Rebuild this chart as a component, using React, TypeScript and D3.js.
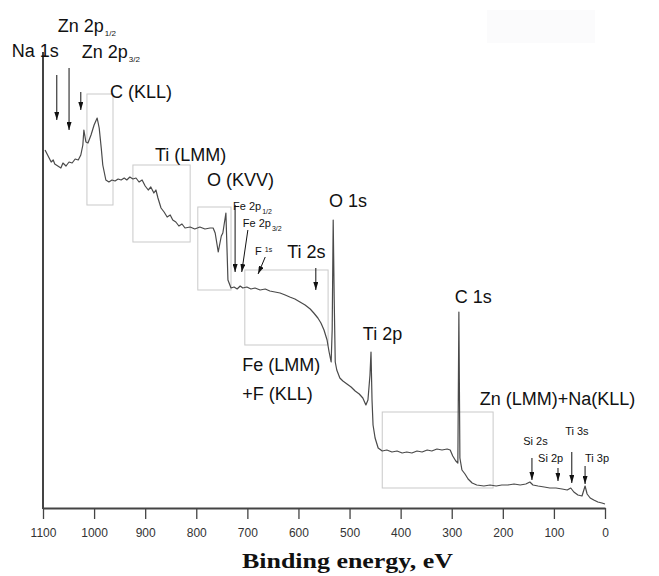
import { useEffect, useRef } from "react";
import * as d3 from "d3";

// survey spectrum (binding energy eV, intensity a.u.)
const energy = [
  1096, 1090, 1084, 1080, 1077, 1071, 1065, 1061, 1055, 1049, 1043, 1037, 1031, 1026, 1022, 1020, 1016, 1012, 1006, 1000,
  994, 990, 986, 983, 977, 971, 965, 959, 953, 947, 941, 936, 930, 924, 918, 912, 906, 900, 894, 889,
  883, 879, 875, 869, 863, 857, 851, 846, 840, 834, 828, 822, 812, 803, 793, 783, 773, 767, 763, 757,
  751, 748, 742, 738, 732, 726, 720, 714, 709, 701, 693, 685, 675, 665, 656, 646, 636, 626, 617, 607,
  597, 587, 577, 570, 562, 556, 550, 544, 540, 536, 534, 532, 530, 528, 525, 519, 513, 505, 497, 489,
  481, 474, 468, 464, 460, 458, 456, 454, 450, 444, 436, 427, 417, 407, 397, 388, 378, 368, 358, 348,
  339, 329, 319, 309, 303, 298, 292, 288, 286, 284, 280, 274, 268, 260, 251, 237, 225, 213, 202, 190,
  178, 166, 155, 147, 141, 131, 119, 108, 96, 84, 74, 67, 61, 53, 45, 39, 35, 29, 22, 14,
  6, 0,
];
const intensity = [
  358, 352, 346, 348, 344, 342, 340, 345, 342, 346, 345, 349, 348, 353, 363, 378, 366, 365, 373, 383,
  390, 380, 360, 343, 328, 326, 328, 327, 329, 328, 330, 328, 331, 329, 330, 326, 328, 322, 318, 321,
  315, 318, 310, 300, 296, 291, 293, 288, 286, 282, 284, 280, 281, 279, 281, 279, 280, 280, 275, 256,
  272, 275, 295, 228, 220, 221, 219, 222, 220, 221, 219, 220, 218, 219, 217, 216, 215, 213, 211, 209,
  206, 203, 199, 195, 190, 185, 178, 168, 156, 146, 178, 288, 208, 146, 138, 130, 127, 124, 121, 117,
  114, 110, 103, 108, 133, 156, 108, 83, 70, 60, 57, 58, 56, 57, 55, 56, 55, 57, 56, 58,
  57, 59, 58, 59, 58, 52, 47, 45, 196, 50, 38, 34, 29, 25, 23, 22, 23, 22, 23, 23,
  24, 23, 24, 26, 23, 22, 21, 20, 20, 19, 18, 20, 16, 13, 12, 22, 14, 10, 8, 6,
  5, 4,
];

const majorTicks = [1100, 1000, 900, 800, 700, 600, 500, 400, 300, 200, 100, 0];
const minorTicks = d3.range(0, 1101, 20);

// grey boxes around Auger regions: [eV from, eV to, intensity low, intensity high]
const boxE0 = [1014, 924, 797, 705, 436];
const boxE1 = [963, 812, 732, 542, 219];
const boxI0 = [303, 266, 218, 163, 20];
const boxI1 = [414, 343, 301, 238, 96];

// peak labels: text, subscript, anchor (eV, intensity), size class
const labelText = ["Zn 2p", "Na 1s", "Zn 2p", "C (KLL)", "Ti (LMM)", "O (KVV)", "Fe 2p", "Fe 2p", "F", "Ti 2s", "O 1s", "C 1s", "Ti 2p", "Fe (LMM)", "+F (KLL)", "Zn (LMM)+Na(KLL)", "Si 2s", "Ti 3s", "Si 2p", "Ti 3p"];
const labelSub = ["1/2", "", "3/2", "", "", "", "1/2", "3/2", "1s", "", "", "", "", "", "", "", "", "", "", ""];
const labelE = [1071, 1161, 1024, 969, 881, 779, 728, 709, 685, 622, 540, 294, 474, 710, 710, 245, 160, 78, 131, 39];
const labelI = [476, 451, 450, 410, 347, 322, 298, 281, 253, 250, 301, 205, 168, 137, 108, 103, 63, 73, 46, 46];
const labelSmall = [false, false, false, false, false, false, true, true, true, false, false, false, false, false, false, false, true, true, true, true];

// arrows: [eV start, intensity start] -> [eV tip, intensity tip]
const arrowE0 = [1073, 1049, 1026, 724, 699, 665, 566, 143, 92, 65, 39];
const arrowI0 = [433, 440, 416, 303, 278, 251, 240, 50, 40, 56, 42];
const arrowE1 = [1073, 1049, 1026, 724, 711, 679, 566, 143, 92, 65, 39];
const arrowI1 = [388, 378, 398, 236, 236, 234, 218, 28, 27, 25, 24];

const W = 659;
const H = 576;

export default function App() {
  const ref = useRef<SVGSVGElement | null>(null);

  useEffect(() => {
    if (!ref.current) return;
    const svg = d3.select(ref.current);
    svg.selectAll("*").remove();
    svg.attr("width", W).attr("height", H);

    const x = d3.scaleLinear().domain([1100, 0]).range([43, 605]);
    const y = d3.scaleLinear().domain([0, 456]).range([508, 52]);
    const sans = "'Liberation Sans', Arial, sans-serif";

    svg.append("rect").attr("width", W).attr("height", H).attr("fill", "#fff");
    svg.append("rect").attr("x", 487).attr("y", 10).attr("width", 108).attr("height", 33).attr("fill", "#fbfbfc");

    const defs = svg.append("defs");
    defs.append("marker")
      .attr("id", "head")
      .attr("viewBox", "0 0 8 5")
      .attr("refX", 8)
      .attr("refY", 2.5)
      .attr("markerWidth", 8)
      .attr("markerHeight", 5)
      .attr("markerUnits", "userSpaceOnUse")
      .attr("orient", "auto")
      .append("path")
      .attr("d", "M0,0 L8,2.5 L0,5 z")
      .attr("fill", "#111");

    // boxes
    boxE0.forEach((e0, k) => {
      svg.append("rect")
        .attr("x", x(e0))
        .attr("y", y(boxI1[k]))
        .attr("width", x(boxE1[k]) - x(e0))
        .attr("height", y(boxI0[k]) - y(boxI1[k]))
        .attr("fill", "none")
        .attr("stroke", "#c9c9c9")
        .attr("stroke-width", 1);
    });

    // spectrum
    const pts: [number, number][] = energy.map((e, k) => [e, intensity[k]]);
    const line = d3.line<[number, number]>().x((d) => x(d[0])).y((d) => y(d[1]));
    svg.append("path")
      .attr("d", line(pts) as string)
      .attr("fill", "none")
      .attr("stroke", "#4a4a4a")
      .attr("stroke-width", 1.2)
      .attr("stroke-linejoin", "round");

    // axes
    const gx = svg.append("g").attr("transform", `translate(0,${y(0)})`);
    gx.call(d3.axisBottom(x).tickValues(minorTicks).tickSize(6).tickSizeOuter(0).tickFormat(() => ""));
    gx.call(d3.axisBottom(x).tickValues(majorTicks).tickSize(11).tickSizeOuter(0).tickPadding(9).tickFormat(d3.format("d")));
    gx.selectAll("path").attr("stroke", "#444").attr("stroke-width", 2);
    gx.selectAll("line").attr("stroke", "#444").attr("stroke-width", 1.3);
    gx.selectAll("text").attr("font-family", sans).attr("font-size", 12).attr("fill", "#333");

    svg.append("line")
      .attr("x1", x(1100)).attr("x2", x(1100))
      .attr("y1", y(456)).attr("y2", y(0) + 1)
      .attr("stroke", "#444")
      .attr("stroke-width", 2);

    // arrows
    arrowE0.forEach((e0, k) => {
      svg.append("line")
        .attr("x1", x(e0)).attr("y1", y(arrowI0[k]))
        .attr("x2", x(arrowE1[k])).attr("y2", y(arrowI1[k]))
        .attr("stroke", "#111")
        .attr("stroke-width", 1)
        .attr("marker-end", "url(#head)");
    });

    // labels
    labelText.forEach((t, k) => {
      const small = labelSmall[k];
      const txt = svg.append("text")
        .attr("x", x(labelE[k]))
        .attr("y", y(labelI[k]))
        .attr("font-family", sans)
        .attr("font-size", small ? 11 : 18)
        .attr("fill", "#111");
      txt.append("tspan").text(t);
      if (labelSub[k]) {
        const sup = t === "F";
        txt.append("tspan")
          .attr("font-size", small ? 7 : 8)
          .attr("dx", sup ? 3 : 1)
          .attr("dy", sup ? -3 : 4)
          .text(labelSub[k]);
      }
    });

    svg.append("text")
      .attr("x", 242)
      .attr("y", 568)
      .attr("font-family", "'Liberation Serif', 'Times New Roman', serif")
      .attr("font-weight", "bold")
      .attr("font-size", 22)
      .attr("textLength", 211)
      .attr("lengthAdjust", "spacingAndGlyphs")
      .attr("fill", "#111")
      .text("Binding energy, eV");
  }, []);

  return <svg ref={ref} style={{ position: "absolute", left: 0, top: 0, display: "block" }} />;
}
